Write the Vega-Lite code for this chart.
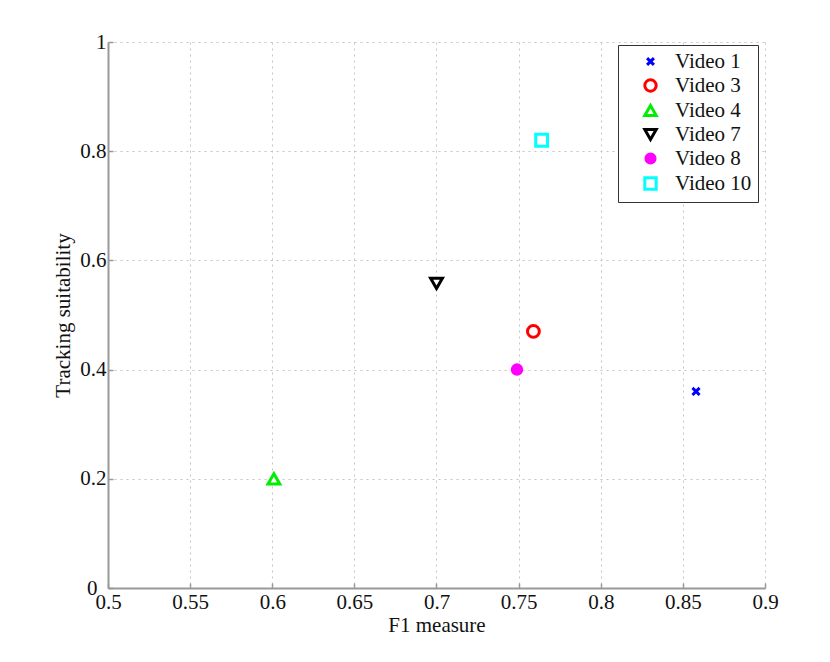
{
  "$schema": "https://vega.github.io/schema/vega-lite/v6.json",
  "width": 657,
  "height": 546,
  "autosize": "none",
  "padding": {"left": 108, "top": 42, "right": 65, "bottom": 74},
  "background": "white",
  "config": {
    "font": "Liberation Serif",
    "view": {"stroke": null},
    "axis": {
      "labelFont": "Liberation Serif",
      "titleFont": "Liberation Serif",
      "labelFontSize": 21,
      "titleFontSize": 21,
      "titleFontWeight": "normal",
      "labelColor": "#111",
      "titleColor": "#111",
      "domainColor": "#999",
      "domainWidth": 2,
      "tickColor": "#999",
      "tickSize": -5,
      "tickWidth": 1.5,
      "gridColor": "#c4c4c4",
      "gridDash": [2, 4],
      "gridWidth": 1,
      "labelFlush": false
    }
  },
  "data": {
    "values": [
      {"video": "Video 1", "f1": 0.858, "ts": 0.36},
      {"video": "Video 3", "f1": 0.759, "ts": 0.47},
      {"video": "Video 4", "f1": 0.601, "ts": 0.20},
      {"video": "Video 7", "f1": 0.700, "ts": 0.558},
      {"video": "Video 8", "f1": 0.749, "ts": 0.40},
      {"video": "Video 10", "f1": 0.764, "ts": 0.82}
    ]
  },
  "mark": {"type": "point", "size": 140, "strokeWidth": 3, "opacity": 1},
  "encoding": {
    "x": {
      "field": "f1", "type": "quantitative",
      "scale": {"domain": [0.5, 0.9], "nice": false, "zero": false},
      "axis": {"values": [0.5, 0.55, 0.6, 0.65, 0.7, 0.75, 0.8, 0.85, 0.9], "format": "~g", "title": "F1 measure", "labelPadding": 8, "titlePadding": 2}
    },
    "y": {
      "field": "ts", "type": "quantitative",
      "scale": {"domain": [0, 1], "nice": false},
      "axis": {
        "values": [0, 0.2, 0.4, 0.6, 0.8, 1], "format": "~g", "title": "Tracking suitability",
        "labelPadding": {"condition": {"test": "datum.value == 0", "value": 16}, "value": 7},
        "titlePadding": 6
      }
    },
    "shape": {
      "field": "video", "type": "nominal",
      "sort": ["Video 1", "Video 3", "Video 4", "Video 7", "Video 8", "Video 10"],
      "scale": {
        "domain": ["Video 1", "Video 3", "Video 4", "Video 7", "Video 8", "Video 10"],
        "range": ["M-0.6,-0.6L0.6,0.6M-0.6,0.6L0.6,-0.6", "circle", "triangle-up", "triangle-down", "M-0.8,0A0.8,0.8,0,1,1,0.8,0A0.8,0.8,0,1,1,-0.8,0Z", "square"]
      },
      "legend": {
        "title": null,
        "orient": "none",
        "legendX": 510,
        "legendY": 3,
        "strokeColor": "#333",
        "fillColor": "white",
        "padding": 6,
        "labelFont": "Liberation Serif",
        "labelFontSize": 21,
        "labelColor": "#111",
        "symbolSize": 130,
        "symbolStrokeWidth": 3,
        "symbolOffset": 16,
        "rowPadding": 1,
        "labelOffset": 14
      }
    },
    "stroke": {
      "field": "video", "type": "nominal",
      "sort": ["Video 1", "Video 3", "Video 4", "Video 7", "Video 8", "Video 10"],
      "scale": {
        "domain": ["Video 1", "Video 3", "Video 4", "Video 7", "Video 8", "Video 10"],
        "range": ["#0000ff", "#ff0000", "#00ee00", "#000000", "#ff00ff", "#00ffff"]
      },
      "legend": null
    },
    "fill": {
      "field": "video", "type": "nominal",
      "sort": ["Video 1", "Video 3", "Video 4", "Video 7", "Video 8", "Video 10"],
      "scale": {
        "domain": ["Video 1", "Video 3", "Video 4", "Video 7", "Video 8", "Video 10"],
        "range": ["#0000ff", "#ffffff", "#ffffff", "#ffffff", "#ff00ff", "#ffffff"]
      },
      "legend": null
    }
  }
}
